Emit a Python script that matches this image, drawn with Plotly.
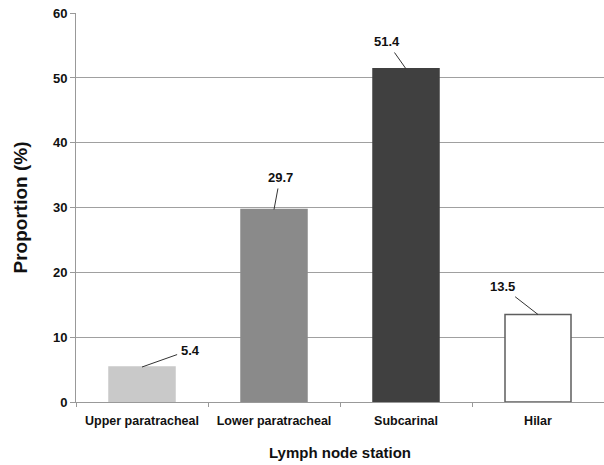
import plotly.graph_objects as go

categories = ["Upper paratracheal", "Lower paratracheal", "Subcarinal", "Hilar"]
proportions = [5.4, 29.7, 51.4, 13.5]
value_labels = ["5.4", "29.7", "51.4", "13.5"]
bar_colors = ["#c9c9c9", "#8a8a8a", "#404040", "#ffffff"]
bar_line_colors = ["#c9c9c9", "#8a8a8a", "#404040", "#5e5e5e"]
label_offsets = [(48, -17), (6, -32), (-19, -27), (-36, -28)]

FONT = "Liberation Sans, Arial, sans-serif"

fig = go.Figure()
fig.add_trace(go.Bar(
    x=categories,
    y=proportions,
    width=0.5,
    marker=dict(color=bar_colors, line=dict(color=bar_line_colors, width=1.5)),
    showlegend=False,
    hoverinfo="x+y",
))

for cat, val, lab, (ax, ay) in zip(categories, proportions, value_labels, label_offsets):
    fig.add_annotation(
        x=cat, y=val, text="<b>%s</b>" % lab,
        showarrow=True, arrowhead=0, arrowwidth=1, arrowcolor="#333333",
        ax=ax, ay=ay, standoff=0, startstandoff=2,
        font=dict(family=FONT, size=13, color="#111111"),
    )

fig.update_layout(
    width=604, height=465,
    margin=dict(l=76, r=0, t=13, b=63, autoexpand=False),
    paper_bgcolor="white", plot_bgcolor="white",
    font=dict(family=FONT, color="#111111"),
    bargap=0.5,
)
fig.update_xaxes(
    type="category",
    automargin=False,
    tickson="boundaries",
    ticks="outside", ticklen=4, tickcolor="#999999", tickwidth=1,
    ticklabelstandoff=7,
    showline=True, linecolor="#999999", linewidth=1,
    showgrid=False,
    tickfont=dict(family=FONT, size=12.5, color="#111111", weight="bold"),
    title=dict(text="<b>Lymph node station</b>", font=dict(family=FONT, size=15, color="#111111"), standoff=20),
)
fig.update_yaxes(
    range=[0, 60.02], tickvals=[0, 10, 20, 30, 40, 50, 60],
    automargin=False,
    ticklabeloverflow="allow",
    ticks="outside", ticklen=5, tickcolor="#999999", tickwidth=1,
    showline=True, linecolor="#999999", linewidth=1,
    showgrid=True, gridcolor="#a0a0a0", gridwidth=1,
    zeroline=False,
    tickfont=dict(family=FONT, size=13, color="#111111", weight="bold"),
    title=dict(text="<b>Proportion (%)</b>", font=dict(family=FONT, size=19, color="#111111"), standoff=20),
)

# remove the browser's default 8px body margin so the figure fills the window
fig.write_html(
    "out.html",
    config={"displayModeBar": False},
    post_script="document.body.style.margin='0';document.body.style.overflow='hidden';",
)
